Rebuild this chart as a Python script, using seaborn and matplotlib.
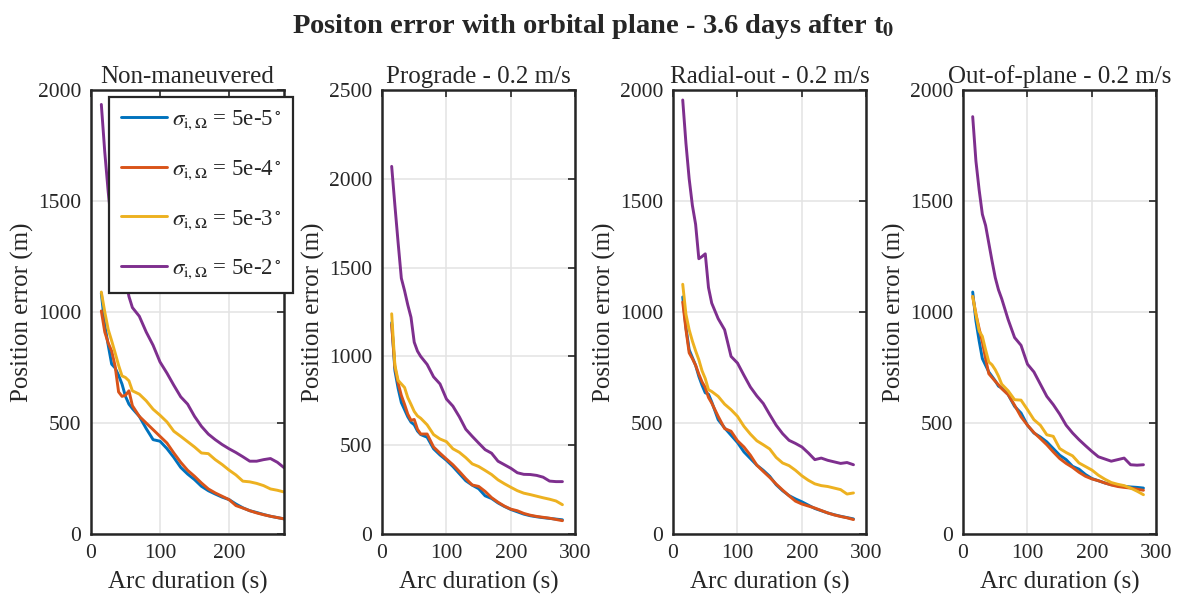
import pandas as pd
import seaborn as sns
import matplotlib.pyplot as plt

# arc durations (s) shared by every curve
arc_s = [15, 20, 25, 30, 35, 40, 45, 50, 55, 60, 70, 80, 90, 100, 110, 120, 130, 140,
         150, 160, 170, 180, 190, 200, 210, 220, 230, 240, 250, 260, 270, 280]

# Non-maneuvered
nonman_5e5 = [1085, 940, 850, 765, 748, 715, 675, 620, 585, 565, 530, 475, 425, 418, 385, 345,
              300, 270, 245, 215, 195, 180, 166, 155, 135, 118, 105, 97, 88, 80, 74, 68]
nonman_5e4 = [1005, 910, 860, 824, 756, 640, 620, 625, 645, 578, 530, 500, 470, 440, 410, 365,
              323, 287, 260, 230, 203, 185, 170, 155, 128, 117, 105, 95, 87, 80, 74, 68]
nonman_5e3 = [1090, 1000, 921, 870, 816, 760, 712, 705, 690, 645, 630, 600, 562, 535, 505, 463,
              440, 416, 392, 365, 362, 335, 313, 288, 266, 238, 235, 228, 218, 203, 197, 189]
nonman_5e2 = [1935, 1720, 1540, 1390, 1340, 1300, 1220, 1150, 1070, 1020, 981, 910, 850, 775, 725, 670,
              618, 585, 530, 485, 450, 425, 403, 384, 367, 348, 328, 328, 335, 340, 323, 298]

# Prograde - 0.2 m/s
pro_5e5 = [1190, 920, 820, 740, 700, 660, 630, 615, 580, 560, 545, 480, 445, 415, 380, 340,
           300, 275, 255, 215, 200, 175, 155, 138, 125, 112, 103, 97, 92, 88, 84, 80]
pro_5e4 = [1180, 940, 850, 780, 730, 675, 640, 645, 590, 563, 563, 490, 455, 422, 390, 352,
           312, 276, 268, 240, 205, 179, 157, 140, 131, 116, 106, 99, 94, 89, 82, 75]
pro_5e3 = [1240, 950, 865, 845, 825, 768, 730, 690, 665, 652, 615, 560, 535, 520, 480, 460,
           430, 395, 380, 358, 335, 305, 283, 263, 244, 230, 222, 213, 204, 196, 186, 165]
pro_5e2 = [2070, 1850, 1640, 1440, 1370, 1290, 1220, 1080, 1030, 1000, 955, 885, 845, 760, 720, 660,
           590, 550, 512, 475, 455, 410, 390, 370, 345, 336, 335, 330, 320, 298, 295, 295]

# Radial-out - 0.2 m/s
rad_5e5 = [1068, 930, 830, 795, 760, 710, 670, 636, 630, 595, 515, 478, 445, 412, 370, 340,
           310, 287, 260, 222, 195, 173, 158, 145, 130, 115, 105, 95, 87, 80, 74, 68]
rad_5e4 = [1045, 921, 816, 790, 760, 720, 685, 660, 615, 590, 530, 475, 463, 420, 392, 355,
           310, 282, 255, 225, 198, 172, 148, 135, 126, 117, 106, 95, 86, 79, 73, 65]
rad_5e3 = [1125, 990, 920, 869, 825, 785, 735, 700, 650, 642, 620, 585, 560, 530, 485, 450,
           420, 402, 383, 345, 320, 308, 287, 262, 242, 226, 218, 214, 207, 200, 180, 185]
rad_5e2 = [1955, 1760, 1600, 1480, 1395, 1240, 1250, 1262, 1110, 1040, 970, 920, 800, 770, 715, 662,
           622, 588, 538, 490, 452, 422, 408, 392, 365, 335, 342, 332, 325, 318, 322, 312]

# Out-of-plane - 0.2 m/s
oop_5e5 = [1090, 960, 870, 790, 760, 730, 710, 690, 666, 658, 628, 575, 545, 490, 455, 437,
           415, 385, 355, 335, 305, 292, 268, 250, 240, 230, 222, 218, 215, 212, 210, 207]
oop_5e4 = [1070, 990, 925, 865, 790, 722, 705, 688, 672, 655, 628, 580, 528, 490, 457, 430,
           402, 370, 340, 318, 300, 278, 260, 248, 240, 230, 221, 214, 210, 207, 202, 197]
oop_5e3 = [1070, 990, 915, 890, 830, 775, 762, 740, 711, 675, 645, 605, 603, 560, 515, 490,
           447, 440, 385, 367, 352, 320, 304, 288, 265, 247, 232, 224, 218, 207, 193, 177]
oop_5e2 = [1880, 1680, 1550, 1440, 1390, 1310, 1230, 1155, 1100, 1060, 966, 885, 850, 765, 730, 675,
           620, 583, 540, 490, 455, 425, 398, 372, 348, 338, 328, 335, 342, 312, 310, 312]

panel_titles = ['Non-maneuvered', 'Prograde - 0.2 m/s', 'Radial-out - 0.2 m/s', 'Out-of-plane - 0.2 m/s']
sigma_labels = [r'$\sigma_{\mathrm{i},\Omega}$ = 5e-5$^\circ$',
                r'$\sigma_{\mathrm{i},\Omega}$ = 5e-4$^\circ$',
                r'$\sigma_{\mathrm{i},\Omega}$ = 5e-3$^\circ$',
                r'$\sigma_{\mathrm{i},\Omega}$ = 5e-2$^\circ$']
panel_series = [
    [nonman_5e5, nonman_5e4, nonman_5e3, nonman_5e2],
    [pro_5e5, pro_5e4, pro_5e3, pro_5e2],
    [rad_5e5, rad_5e4, rad_5e3, rad_5e2],
    [oop_5e5, oop_5e4, oop_5e3, oop_5e2],
]
colors = ['#0072BD', '#D95319', '#EDB120', '#7E2F8E']

rows = []
for title, series in zip(panel_titles, panel_series):
    for lab, vals in zip(sigma_labels, series):
        for a, v in zip(arc_s, vals):
            rows.append({'panel': title, 'sigma': lab, 'arc': a, 'err': v})
df = pd.DataFrame(rows)

sns.set_theme(style='whitegrid')
plt.rcParams['font.family'] = ['Liberation Serif', 'DejaVu Serif']
plt.rcParams['mathtext.fontset'] = 'stix'

fig = plt.figure(figsize=(11.86, 5.98), dpi=100)
lefts = [0.0767, 0.3221, 0.5675, 0.8120]
ylims = [2000, 2500, 2000, 2000]
xlims = [280, 300, 300, 300]

for i, title in enumerate(panel_titles):
    ax = fig.add_axes([lefts[i], 0.107, 0.163, 0.7425])
    sub = df[df.panel == title]
    sns.lineplot(data=sub, x='arc', y='err', hue='sigma', hue_order=sigma_labels,
                 palette=colors, linewidth=2.1, ax=ax, legend=(i == 0))
    ax.set_xlim(0, xlims[i])
    ax.set_ylim(0, ylims[i])
    ax.set_xticks(range(0, xlims[i] + 1, 100))
    ax.set_yticks(range(0, ylims[i] + 1, 500))
    ax.set_title(title, fontsize=18, pad=5)
    ax.set_xlabel('Arc duration (s)', fontsize=18, labelpad=6)
    ax.set_ylabel('Position error (m)', fontsize=18, labelpad=3)
    ax.tick_params(direction='in', length=5, width=1.2, top=True, right=True,
                   labelsize=15.5, colors='#262626', pad=7)
    ax.grid(True, color='#e3e3e3', linewidth=1.1)
    for s in ax.spines.values():
        s.set_color('#262626')
        s.set_linewidth(1.8)
    if i == 0:
        h, l = ax.get_legend_handles_labels()
        leg = ax.legend(h, l, loc='upper right', bbox_to_anchor=(1.047, 0.984),
                        borderaxespad=0, fontsize=16.5, frameon=True, fancybox=False,
                        framealpha=1, edgecolor='#262626', handlelength=2.0,
                        handletextpad=0.25, labelspacing=1.15, borderpad=0.5)
        leg.get_frame().set_linewidth(1.6)
        leg.set_zorder(5)

fig.suptitle(r'Positon error with orbital plane - 3.6 days after t$_{\mathbf{0}}$',
             fontsize=20.5, fontweight='bold', y=0.98)
fig.savefig('out.png', dpi=100)
